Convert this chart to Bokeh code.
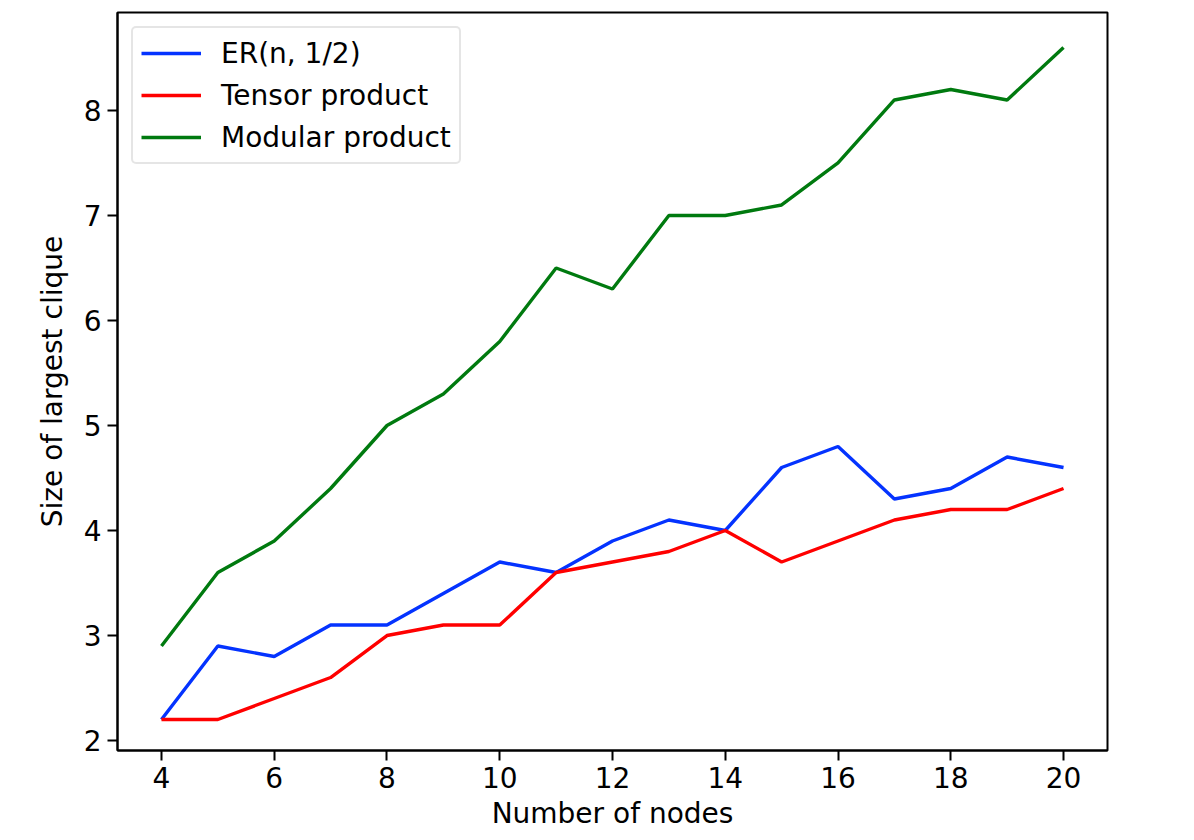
from bokeh.plotting import figure
from bokeh.models import Range1d, FixedTicker, Legend, LegendItem
from bokeh.embed import file_html
from bokeh.resources import INLINE

nodes = list(range(4, 21))
er_values = [2.2, 2.9, 2.8, 3.1, 3.1, 3.4, 3.7, 3.6, 3.9, 4.1, 4.0, 4.6, 4.8, 4.3, 4.4, 4.7, 4.6]
tensor_values = [2.2, 2.2, 2.4, 2.6, 3.0, 3.1, 3.1, 3.6, 3.7, 3.8, 4.0, 3.7, 3.9, 4.1, 4.2, 4.2, 4.4]
modular_values = [2.9, 3.6, 3.9, 4.4, 5.0, 5.3, 5.8, 6.5, 6.3, 7.0, 7.0, 7.1, 7.5, 8.1, 8.2, 8.1, 8.6]
x_ticks = [4, 6, 8, 10, 12, 14, 16, 18, 20]
y_ticks = [2, 3, 4, 5, 6, 7, 8]
labels = ["ER(n, 1/2)", "Tensor product", "Modular product"]
colors = ["#0433ff", "#ff0000", "#007a0f"]

FONT = "DejaVu Sans"

p = figure(width=1186, height=840, output_backend="svg", toolbar_location=None,
           x_range=Range1d(3.22, 20.78), y_range=Range1d(1.905, 8.933),
           min_border_left=117, min_border_top=12, min_border_right=79, min_border_bottom=90)

renderers = []
for ys, c in zip([er_values, tensor_values, modular_values], colors):
    r = p.line(nodes, ys, line_color=c, line_width=3.4)
    renderers.append(r)

legend = Legend(items=[LegendItem(label=l, renderers=[r]) for l, r in zip(labels, renderers)],
                location="top_left")
legend.label_text_font = FONT
legend.label_text_font_size = "28px"
legend.label_text_color = "black"
legend.glyph_width = 60
legend.glyph_height = 34
legend.label_height = 34
legend.label_standoff = 20
legend.spacing = 8
legend.padding = 8
legend.margin = 14
legend.border_line_color = "#cccccc"
legend.border_line_width = 2
legend.border_radius = 5
legend.background_fill_alpha = 0.8
p.add_layout(legend)

p.grid.visible = False
p.outline_line_color = "black"
p.outline_line_width = 2
p.background_fill_color = "white"

p.xaxis.ticker = FixedTicker(ticks=x_ticks)
p.yaxis.ticker = FixedTicker(ticks=y_ticks)
for ax in (p.xaxis[0], p.yaxis[0]):
    ax.major_label_text_font = FONT
    ax.major_label_text_font_size = "28px"
    ax.major_label_text_color = "black"
    ax.axis_label_text_font = FONT
    ax.axis_label_text_font_size = "28px"
    ax.axis_label_text_font_style = "normal"
    ax.axis_label_text_color = "black"
    ax.axis_line_width = 2
    ax.major_tick_line_width = 2
    ax.major_tick_out = 10
    ax.major_tick_in = 0
    ax.minor_tick_line_color = None
    ax.major_label_standoff = 6
p.xaxis.axis_label_standoff = 6
p.yaxis.axis_label_standoff = 12
p.xaxis.axis_label = "Number of nodes"
p.yaxis.axis_label = "Size of largest clique"

open("out.html", "w").write(file_html(p, INLINE))
